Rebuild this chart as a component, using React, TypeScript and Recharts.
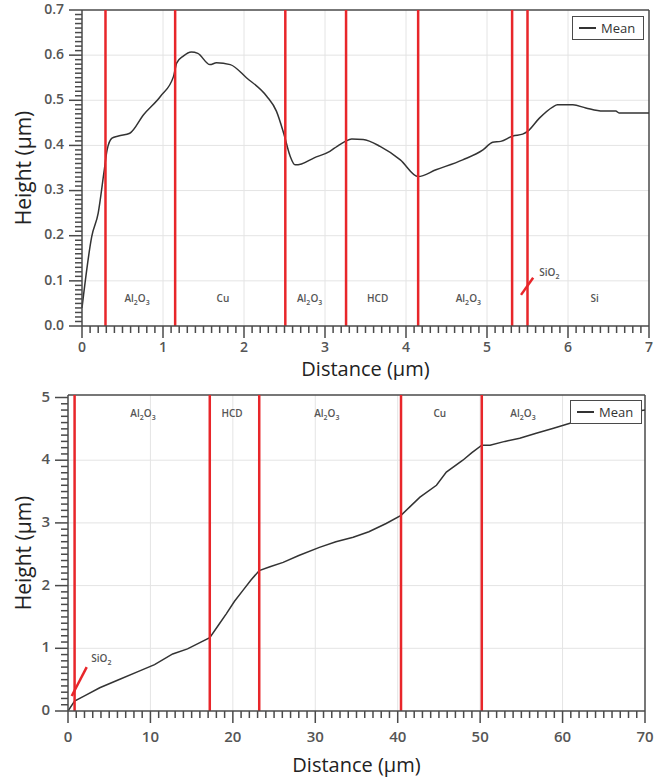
import React from 'react';
import { LineChart, Line, XAxis, YAxis, ReferenceLine, ReferenceDot, Legend, Label } from 'recharts';

// ---- top profile (0-7 µm) ----
const TOP_DISTANCE = [0, 0.02, 0.12, 0.2, 0.27, 0.31, 0.37, 0.45, 0.59, 0.76, 0.97, 1.13, 1.17, 1.25, 1.35, 1.43, 1.58, 1.66, 1.83, 2.03, 2.28, 2.4, 2.49, 2.57, 2.63, 2.71, 2.86, 3.06, 3.15, 3.25, 3.33, 3.47, 3.68, 3.93, 4.15, 4.37, 4.7, 4.95, 5.07, 5.17, 5.32, 5.44, 5.5, 5.65, 5.81, 5.87, 6.06, 6.22, 6.43, 6.59, 6.63, 7.0];
const TOP_HEIGHT = [0.04, 0.07, 0.198, 0.25, 0.339, 0.39, 0.416, 0.421, 0.427, 0.468, 0.509, 0.553, 0.583, 0.598, 0.607, 0.604, 0.579, 0.583, 0.579, 0.55, 0.509, 0.476, 0.427, 0.376, 0.357, 0.359, 0.372, 0.387, 0.398, 0.409, 0.414, 0.413, 0.398, 0.368, 0.331, 0.346, 0.368, 0.39, 0.407, 0.409, 0.421, 0.425, 0.431, 0.461, 0.485, 0.49, 0.49, 0.483, 0.476, 0.476, 0.472, 0.472];
const TOP_BOUNDARIES = [0.29, 1.15, 2.51, 3.26, 4.15, 5.31, 5.5];
const TOP_REGION_NAMES = ['Al2O3', 'Cu', 'Al2O3', 'HCD', 'Al2O3', 'Si', 'SiO2'];
const TOP_REGION_X = [0.68, 1.74, 2.81, 3.65, 4.77, 6.33, 5.77];
const TOP_REGION_Y = [0.062, 0.062, 0.062, 0.062, 0.062, 0.062, 0.12];
const TOP_POINTER = [{ x: 5.42, y: 0.069 }, { x: 5.57, y: 0.107 }];
const TOP_X_TICKS = [0, 1, 2, 3, 4, 5, 6, 7];
const TOP_Y_TICKS = [0, 0.1, 0.2, 0.3, 0.4, 0.5, 0.6, 0.7];

// ---- bottom profile (0-70 µm) ----
const BOT_DISTANCE = [0, 0.8, 2, 3.85, 6, 8.7, 10.5, 12.7, 14.5, 16, 17.2, 18.2, 19.2, 20.2, 21.2, 22.2, 23.2, 24.5, 26.1, 28, 30.5, 32.5, 34.6, 36.5, 38.6, 40.4, 41.5, 42.7, 44.7, 45.9, 47.9, 49, 50.2, 51.2, 53, 54.8, 56.8, 58.9, 60.9, 63, 66, 70];
const BOT_HEIGHT = [0, 0.16, 0.24, 0.37, 0.49, 0.64, 0.74, 0.91, 0.99, 1.09, 1.17, 1.36, 1.55, 1.75, 1.92, 2.09, 2.24, 2.3, 2.37, 2.48, 2.61, 2.7, 2.77, 2.86, 2.99, 3.12, 3.26, 3.41, 3.6, 3.81, 4.0, 4.12, 4.24, 4.24, 4.3, 4.35, 4.43, 4.51, 4.59, 4.65, 4.72, 4.8];
const BOT_BOUNDARIES = [0.8, 17.2, 23.2, 40.4, 50.2];
const BOT_REGION_NAMES = ['Al2O3', 'HCD', 'Al2O3', 'Cu', 'Al2O3', 'SiO2'];
const BOT_REGION_X = [9.1, 19.9, 31.4, 45.1, 55.2, 4.05];
const BOT_REGION_Y = [4.75, 4.75, 4.75, 4.75, 4.75, 0.85];
const BOT_POINTER = [{ x: 0.45, y: 0.24 }, { x: 2.27, y: 0.7 }];
const BOT_X_TICKS = [0, 10, 20, 30, 40, 50, 60, 70];
const BOT_Y_TICKS = [0, 1, 2, 3, 4, 5];

const FONT = "'Open Sans', sans-serif";
const RED = '#e8262a';
const AXIS = '#4a4a4a';
const GRID = '#e4e4e4';
const MINOR = 7; // native tick length; majors get a longer mark in the tick renderer

const minorTicks = (max: number, step: number) => {
  const out: number[] = [];
  for (let i = 0; i <= Math.round(max / step); i++) out.push(Math.round(i * step * 1000) / 1000);
  return out;
};

const isOn = (v: number, step: number) => Math.abs(v / step - Math.round(v / step)) < 1e-6;

// x/y arrive already shifted by the native tick length
const XTick = (props: any) => {
  const x = Number(props.x);
  const y = Number(props.y);
  if (!isOn(props.payload.value, props.major)) return <g />;
  return (
    <g>
      <path d={`M${x},${y}V${y + 5}`} stroke={AXIS} strokeWidth={1.5} fill="none" />
      <text x={x} y={y - MINOR + props.labelDy} textAnchor="middle" dominantBaseline="middle" fontSize={props.size} fontWeight={600} fill="#555" fontFamily={FONT}>
        {props.payload.value}
      </text>
    </g>
  );
};

const YTick = (props: any) => {
  const x = Number(props.x);
  const y = Number(props.y);
  if (!isOn(props.payload.value, props.major)) return <g />;
  return (
    <g>
      <path d={`M${x},${y}H${x - 6}`} stroke={AXIS} strokeWidth={1.5} fill="none" />
      <text x={x + MINOR - 18} y={y} textAnchor="end" dominantBaseline="middle" fontSize={props.size} fontWeight={600} fill="#555" fontFamily={FONT}>
        {props.payload.value.toFixed(props.digits)}
      </text>
    </g>
  );
};

// digits in material names become subscripts
const Material = ({ cx, cy, name }: any) => {
  const parts = name.split(/(\d)/).filter((s: string) => s !== '');
  return (
    <text x={cx} y={cy + 4} textAnchor="middle" fontSize={10} fontWeight={600} fill="#555" fontFamily={FONT}>
      {parts.map((s: string, i: number) =>
        /\d/.test(s) ? (
          <tspan key={i} fontSize={7} dy={3}>{s}</tspan>
        ) : (
          <tspan key={i} dy={i > 0 ? -3 : 0}>{s}</tspan>
        )
      )}
    </text>
  );
};

const LegendBox = () => (
  <div
    style={{
      border: `1.5px solid ${AXIS}`,
      background: '#fff',
      height: 22,
      display: 'flex',
      alignItems: 'center',
      padding: '0 6px',
      fontFamily: FONT,
      fontSize: 13,
      color: '#333'
    }}
  >
    <span style={{ display: 'inline-block', width: 17, height: 1.5, background: '#333', marginRight: 5 }} />
    Mean
  </div>
);

const Profile = (p: any) => {
  const data = p.distance.map((d: number, i: number) => ({ d, h: p.height[i] }));
  const xMax = p.xTicks[p.xTicks.length - 1];
  const yMax = p.yTicks[p.yTicks.length - 1];
  return (
    <LineChart width={657} height={p.chartHeight} data={data} margin={p.margin}>
      <XAxis
        type="number"
        dataKey="d"
        domain={[0, xMax]}
        ticks={minorTicks(xMax, p.xMinor)}
        interval={0}
        tickLine={{ stroke: AXIS, strokeWidth: 1.5 }}
        tickSize={MINOR}
        tickMargin={0}
        height={p.xHeight}
        axisLine={{ stroke: AXIS, strokeWidth: 1.5 }}
        tick={(t: any) => <XTick {...t} major={p.xTicks[1]} size={p.tickFont} labelDy={p.tickDy} />}
      >
        <Label
          content={(l: any) => (
            <text x={l.viewBox.x + l.viewBox.width / 2} y={l.viewBox.y + p.titleDy} textAnchor="middle" dominantBaseline="middle" fontSize={20} fill="#222" fontFamily={FONT}>
              Distance (µm)
            </text>
          )}
        />
      </XAxis>
      <YAxis
        domain={[0, p.yTop]}
        allowDataOverflow
        ticks={minorTicks(yMax, p.yMinor)}
        interval={0}
        tickLine={{ stroke: AXIS, strokeWidth: 1.5 }}
        tickSize={MINOR}
        tickMargin={0}
        width={p.yWidth}
        axisLine={{ stroke: AXIS, strokeWidth: 1.5 }}
        tick={(t: any) => <YTick {...t} major={p.yTicks[1]} digits={p.yDigits} size={p.tickFont} />}
      >
        <Label
          content={(l: any) => {
            const cy = l.viewBox.y + l.viewBox.height / 2;
            return (
              <text x={25} y={cy} transform={`rotate(-90 25 ${cy})`} textAnchor="middle" dominantBaseline="middle" fontSize={21} fill="#222" fontFamily={FONT}>
                Height (µm)
              </text>
            );
          }}
        />
      </YAxis>
      {p.xTicks.slice(1, -1).map((v: number) => (
        <ReferenceLine key={`gx${v}`} x={v} stroke={GRID} />
      ))}
      {p.yTicks.slice(1, -1).map((v: number) => (
        <ReferenceLine key={`gy${v}`} segment={[{ x: 0, y: v }, { x: xMax, y: v }]} stroke={GRID} />
      ))}
      <ReferenceLine segment={[{ x: xMax, y: 0 }, { x: xMax, y: p.yTop }]} stroke={AXIS} strokeWidth={1.5} />
      <ReferenceLine segment={[{ x: 0, y: p.yTop }, { x: xMax, y: p.yTop }]} stroke={AXIS} strokeWidth={1.5} />
      <Line type={p.curve} dataKey="h" stroke="#333" strokeWidth={1.5} dot={false} isAnimationActive={false} legendType="none" />
      {p.boundaries.map((b: number) => (
        <ReferenceLine key={`b${b}`} x={b} stroke={RED} strokeWidth={2.5} />
      ))}
      <ReferenceLine segment={p.pointer} stroke={RED} strokeWidth={2.5} />
      {p.names.map((n: string, i: number) => (
        <ReferenceDot key={`n${i}`} x={p.labelX[i]} y={p.labelY[i]} r={1} shape={(s: any) => <Material cx={s.cx} cy={s.cy} name={n} />} />
      ))}
      <Legend
        layout="vertical"
        align="center"
        verticalAlign="middle"
        wrapperStyle={{ top: p.legendTop, left: p.legendLeft, width: 72 }}
        content={() => <LegendBox />}
      />
    </LineChart>
  );
};

export default function App() {
  return (
    <div style={{ position: 'absolute', left: 0, top: 0 }}>
      <div style={{ background: '#fff' }}>
        <Profile
          distance={TOP_DISTANCE}
          height={TOP_HEIGHT}
          boundaries={TOP_BOUNDARIES}
          names={TOP_REGION_NAMES}
          labelX={TOP_REGION_X}
          labelY={TOP_REGION_Y}
          pointer={TOP_POINTER}
          xTicks={TOP_X_TICKS}
          yTicks={TOP_Y_TICKS}
          xMinor={0.1}
          yMinor={0.01}
          yDigits={1}
          yTop={0.7}
          chartHeight={380}
          margin={{ top: 10, right: 8, left: 0, bottom: 0 }}
          yWidth={82}
          xHeight={54}
          titleDy={45}
          tickDy={22}
          tickFont={14}
          legendTop={16}
          legendLeft={572}
          curve="monotone"
        />
      </div>
      <div style={{ background: '#fff' }}>
        <Profile
          distance={BOT_DISTANCE}
          height={BOT_HEIGHT}
          boundaries={BOT_BOUNDARIES}
          names={BOT_REGION_NAMES}
          labelX={BOT_REGION_X}
          labelY={BOT_REGION_Y}
          pointer={BOT_POINTER}
          xTicks={BOT_X_TICKS}
          yTicks={BOT_Y_TICKS}
          xMinor={1}
          yMinor={0.1}
          yDigits={0}
          yTop={5.04}
          chartHeight={400}
          margin={{ top: 15, right: 12, left: 0, bottom: 0 }}
          yWidth={68}
          xHeight={69}
          titleDy={56}
          tickDy={27}
          tickFont={15}
          legendTop={20}
          legendLeft={570}
          curve="linear"
        />
      </div>
    </div>
  );
}
